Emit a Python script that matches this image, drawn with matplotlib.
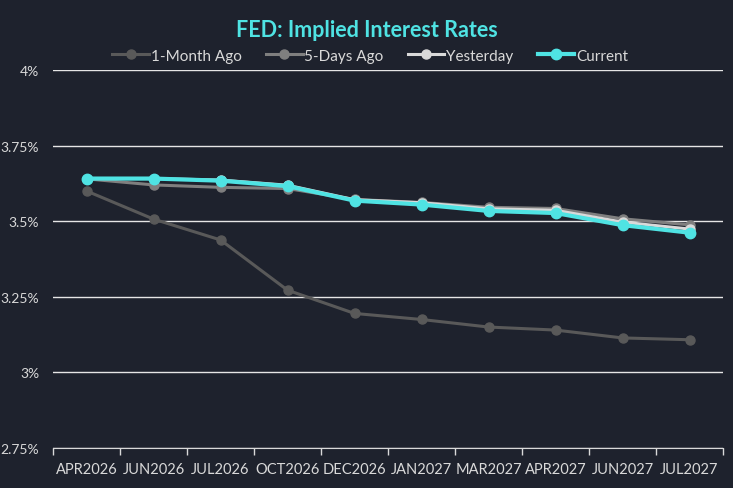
import numpy as np
import matplotlib
matplotlib.use("Agg")
import matplotlib.pyplot as plt

plt.rcParams['font.family'] = ['Lato', 'DejaVu Sans']

months = ["APR2026", "JUN2026", "JUL2026", "OCT2026", "DEC2026",
          "JAN2027", "MAR2027", "APR2027", "JUN2027", "JUL2027"]
month_ago = [3.600, 3.507, 3.438, 3.272, 3.195, 3.175, 3.150, 3.140, 3.114, 3.108]
days5_ago = [3.640, 3.620, 3.612, 3.608, 3.572, 3.562, 3.546, 3.542, 3.508, 3.488]
yesterday = [3.641, 3.641, 3.636, 3.619, 3.571, 3.561, 3.541, 3.536, 3.497, 3.474]
current = [3.641, 3.641, 3.634, 3.616, 3.568, 3.555, 3.534, 3.527, 3.487, 3.462]

bg = '#1e222d'
txt = '#d9d9d9'

fig = plt.figure(figsize=(7.33, 4.89), dpi=100, facecolor=bg)
ax = fig.add_axes([53/733, 40/489, 670/733, 378/489], facecolor=bg)

x = np.arange(len(months))
ax.plot(x, month_ago, color='#595959', lw=2.2, marker='o', ms=6.5, label='1-Month Ago')
ax.plot(x, days5_ago, color='#7f7f7f', lw=2.2, marker='o', ms=6.5, label='5-Days Ago')
ax.plot(x, yesterday, color='#d9d9d9', lw=2.2, marker='o', ms=6.5, label='Yesterday')
ax.plot(x, current, color='#4fe3e3', lw=3, marker='o', ms=7.5, label='Current')

ax.set_xlim(-0.5, len(months) - 0.5)
ax.set_ylim(2.75, 4.0)
yt = [2.75, 3.0, 3.25, 3.5, 3.75, 4.0]
ax.set_yticks(yt)
ax.set_yticklabels(['2.75%', '3%', '3.25%', '3.5%', '3.75%', '4%'])
ax.yaxis.grid(True, color='#e6e6e6', lw=1)
ax.set_axisbelow(True)

ax.set_xticks(x)
ax.set_xticklabels(months)
ax.set_xticks(np.arange(len(months) + 1) - 0.5, minor=True)
ax.tick_params(axis='x', which='major', length=0, pad=10, colors=txt, labelsize=10.5)
ax.tick_params(axis='x', which='minor', length=5, color='#d9d9d9', width=1)
ax.tick_params(axis='y', length=0, pad=10, colors=txt, labelsize=10)

for s in ['top', 'right', 'left']:
    ax.spines[s].set_visible(False)
ax.spines['bottom'].set_color('#d9d9d9')

fig.text(0.5, 0.938, 'FED: Implied Interest Rates', ha='center', va='center',
         color='#4fe3e3', fontsize=15.5, fontweight='bold')
leg = fig.legend(loc='center', bbox_to_anchor=(0.505, 0.884), ncol=4, frameon=False,
                 fontsize=11, labelcolor=txt, handlelength=2.4, handletextpad=0.1,
                 columnspacing=1.6)

fig.savefig('out.png', dpi=100, facecolor=bg)
